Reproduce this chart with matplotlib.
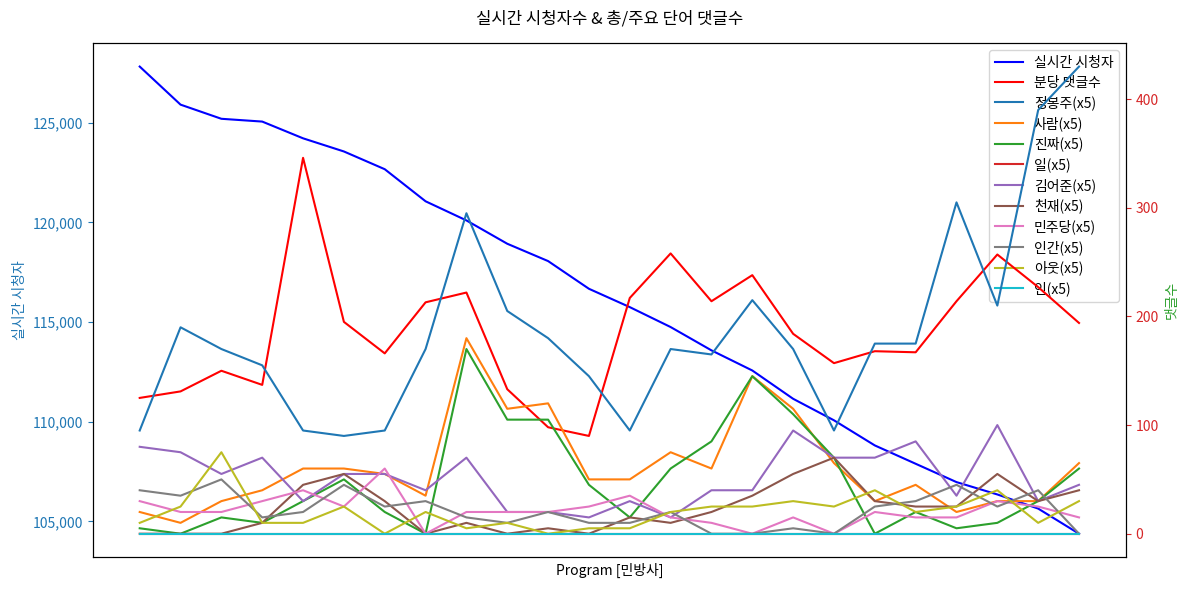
import matplotlib
matplotlib.use("Agg")
import matplotlib.pyplot as plt
from matplotlib.ticker import FuncFormatter

plt.rcParams['font.family'] = ['Noto Sans CJK KR', 'DejaVu Sans']
plt.rcParams['axes.unicode_minus'] = False

# 실시간 시청자수 (left axis)
viewers = [127820, 125910, 125200, 125060, 124220, 123560, 122670, 121060,
           120100, 118930, 118060, 116670, 115750, 114750, 113580, 112570,
           111150, 110070, 108810, 107890, 106970, 106350, 105640, 104380]

# 분당 댓글수 (right axis)
comments = [125, 131, 150, 137, 346, 195, 166, 213, 222, 133, 98, 90,
            217, 258, 214, 238, 184, 157, 168, 167, 214, 257, 227, 194]

# 주요 단어 댓글수 (x5)
word_names = ["정봉주", "사람", "진짜", "일", "김어준", "천재",
              "민주당", "인간", "아웃", "인"]
word_counts = [
    [95, 190, 170, 155, 95, 90, 95, 170, 295, 205, 180, 145, 95, 170, 165, 215, 170, 95, 175, 175, 305, 210, 390, 430],
    [20, 10, 30, 40, 60, 60, 55, 35, 180, 115, 120, 50, 50, 75, 60, 145, 115, 65, 30, 45, 20, 30, 30, 65],
    [5, 0, 15, 10, 30, 50, 20, 0, 170, 105, 105, 45, 15, 60, 85, 145, 110, 70, 0, 20, 5, 10, 30, 60],
    [0] * 24,
    [80, 75, 55, 70, 30, 55, 55, 40, 70, 20, 20, 15, 30, 15, 40, 40, 95, 70, 70, 85, 35, 100, 30, 45],
    [0, 0, 0, 10, 45, 55, 30, 0, 10, 0, 5, 0, 15, 10, 20, 35, 55, 70, 30, 25, 25, 55, 30, 40],
    [30, 20, 20, 30, 40, 25, 60, 0, 20, 20, 20, 25, 35, 15, 10, 0, 15, 0, 20, 15, 15, 30, 25, 15],
    [40, 35, 50, 15, 20, 45, 25, 30, 15, 10, 20, 10, 10, 20, 0, 0, 5, 0, 25, 30, 45, 25, 40, 0],
    [10, 25, 75, 10, 10, 25, 0, 20, 5, 10, 0, 5, 5, 20, 25, 25, 30, 25, 40, 20, 25, 40, 10, 30],
    [0] * 24,
]

x = list(range(len(viewers)))

fig, ax1 = plt.subplots(figsize=(11.89, 5.92), dpi=100)
fig.subplots_adjust(left=0.078, right=0.947, top=0.927, bottom=0.059)
ax2 = ax1.twinx()

ax1.plot(x, viewers, color="blue", linewidth=1.5, label="실시간 시청자")
ax2.plot(x, comments, color="red", linewidth=1.5, label="분당 댓글수")

tab_colors = plt.rcParams['axes.prop_cycle'].by_key()['color']
for i, (name, counts) in enumerate(zip(word_names, word_counts)):
    ax2.plot(x, counts, color=tab_colors[i % len(tab_colors)], linewidth=1.5,
             label=f"{name}(x5)")

ax1.set_xticks([])
ax1.set_xlabel("Program [민방사]")
ax1.set_ylabel("실시간 시청자", color="tab:blue")
ax1.tick_params("y", colors="tab:blue")
ax1.yaxis.set_major_formatter(FuncFormatter(lambda v, p: f"{int(v):,}"))

ax2.set_ylabel("댓글수", color="tab:green")
ax2.tick_params("y", colors="tab:red")

# legend on ax1 so the word lines draw over it
h1, l1 = ax1.get_legend_handles_labels()
h2, l2 = ax2.get_legend_handles_labels()
ax1.legend(h1 + h2, l1 + l2, loc="upper right", labelspacing=0.42)

ax1.set_title("실시간 시청자수 & 총/주요 단어 댓글수", pad=14)

plt.savefig("out.png")
